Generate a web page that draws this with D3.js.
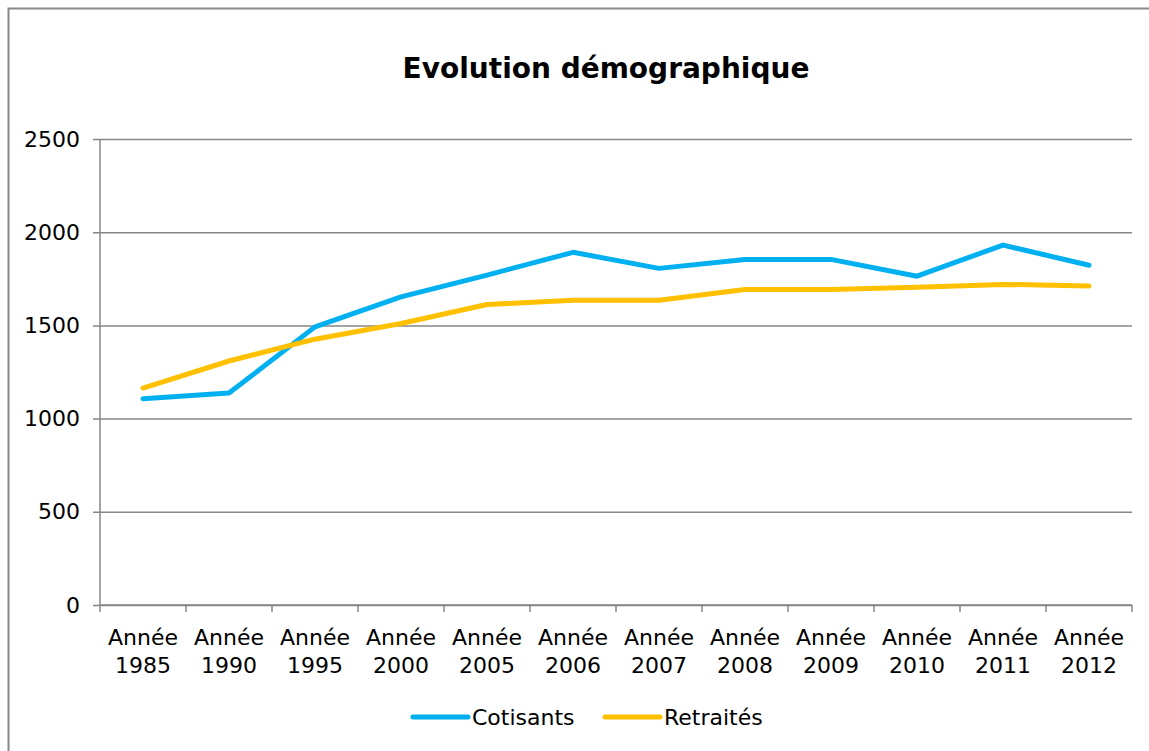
<!DOCTYPE html>
<html>
<head>
<meta charset="utf-8">
<script src="https://cdn.jsdelivr.net/npm/d3@7"></script>
<style>
    body { margin: 0; background: #fff; }
    svg text { font-family: "Century Gothic", "DejaVu Sans", sans-serif; fill: #000; }
</style>
</head>
<body>
<div id="chart"></div>
<script>
// categories and series
const years = ["1985", "1990", "1995", "2000", "2005", "2006", "2007", "2008", "2009", "2010", "2011", "2012"];
const cotisants = [1107, 1137, 1492, 1653, 1770, 1892, 1806, 1854, 1854, 1764, 1931, 1823];
const retraites = [1164, 1309, 1426, 1510, 1612, 1635, 1635, 1693, 1693, 1704, 1720, 1712];
const yTicks = [0, 500, 1000, 1500, 2000, 2500];
const seriesNames = ["Cotisants", "Retraités"];
const seriesColors = ["#00B0F0", "#FFC000"];

window.onload = () => {
    var width = 1149;
    var height = 751;
    var margin = { left: 100, right: 17, top: 139, bottom: 146 };

    var svg = d3.select("#chart")
        .append("svg")
        .attr("width", width)
        .attr("height", height);

    // outer chart border (only top and left visible in the crop)
    svg.append("rect")
        .attr("x", 8.5)
        .attr("y", 8.5)
        .attr("width", width + 20)
        .attr("height", height + 20)
        .attr("fill", "none")
        .attr("stroke", "#888")
        .attr("stroke-width", 2);

    svg.append("text")
        .attr("x", 606)
        .attr("y", 78)
        .attr("text-anchor", "middle")
        .style("font-weight", "bold")
        .style("font-size", "28px")
        .text("Evolution démographique");

    var x = d3.scaleBand()
        .domain(years)
        .range([margin.left, width - margin.right]);

    var y = d3.scaleLinear()
        .domain([0, 2500])
        .range([height - margin.bottom, margin.top]);

    // gridlines + y labels
    var yAxis = svg.append("g")
        .attr("transform", `translate(${margin.left},0)`)
        .call(d3.axisLeft(y)
            .tickValues(yTicks)
            .tickSize(-(width - margin.left - margin.right))
            .tickPadding(20)
            .tickFormat(d3.format("d")));
    yAxis.select(".domain").remove();
    yAxis.selectAll(".tick line")
        .attr("x1", -7)
        .attr("stroke", "#868686")
        .attr("stroke-width", 1.5);
    yAxis.selectAll(".tick text")
        .style("font-size", "22px")
        .attr("x", -20);

    // vertical axis line
    svg.append("line")
        .attr("x1", margin.left)
        .attr("x2", margin.left)
        .attr("y1", y(2500))
        .attr("y2", y(0))
        .attr("stroke", "#868686")
        .attr("stroke-width", 1.5);

    // x axis with ticks between categories
    var xAxis = svg.append("g")
        .attr("transform", `translate(0,${y(0)})`);
    xAxis.append("line")
        .attr("x1", margin.left)
        .attr("x2", width - margin.right)
        .attr("stroke", "#868686")
        .attr("stroke-width", 1.5);
    xAxis.selectAll("line.tk")
        .data(years.concat(["end"]))
        .enter()
        .append("line")
        .attr("class", "tk")
        .attr("x1", (d, i) => i < years.length ? x(d) : x(years[years.length - 1]) + x.bandwidth())
        .attr("x2", (d, i) => i < years.length ? x(d) : x(years[years.length - 1]) + x.bandwidth())
        .attr("y1", 0)
        .attr("y2", 7)
        .attr("stroke", "#868686")
        .attr("stroke-width", 1.5);

    var lab = xAxis.selectAll("text.xl")
        .data(years)
        .enter()
        .append("text")
        .attr("class", "xl")
        .attr("text-anchor", "middle")
        .style("font-size", "22px");
    lab.append("tspan")
        .attr("x", d => x(d) + x.bandwidth() / 2)
        .attr("y", 40)
        .text("Année");
    lab.append("tspan")
        .attr("x", d => x(d) + x.bandwidth() / 2)
        .attr("y", 68)
        .text(d => d);

    var line = d3.line()
        .x((d, i) => x(years[i]) + x.bandwidth() / 2)
        .y(d => y(d));

    [cotisants, retraites].forEach((s, k) => {
        svg.append("path")
            .datum(s)
            .attr("fill", "none")
            .attr("stroke", seriesColors[k])
            .attr("stroke-width", 5)
            .attr("stroke-linejoin", "round")
            .attr("stroke-linecap", "round")
            .attr("d", line);
    });

    // legend
    var legX = [413, 605];
    seriesNames.forEach((n, k) => {
        svg.append("line")
            .attr("x1", legX[k])
            .attr("x2", legX[k] + 55)
            .attr("y1", 717)
            .attr("y2", 717)
            .attr("stroke", seriesColors[k])
            .attr("stroke-width", 5)
            .attr("stroke-linecap", "round");
        svg.append("text")
            .attr("x", legX[k] + 59)
            .attr("y", 725)
            .style("font-size", "22px")
            .text(n);
    });
}
</script>
</body>
</html>
